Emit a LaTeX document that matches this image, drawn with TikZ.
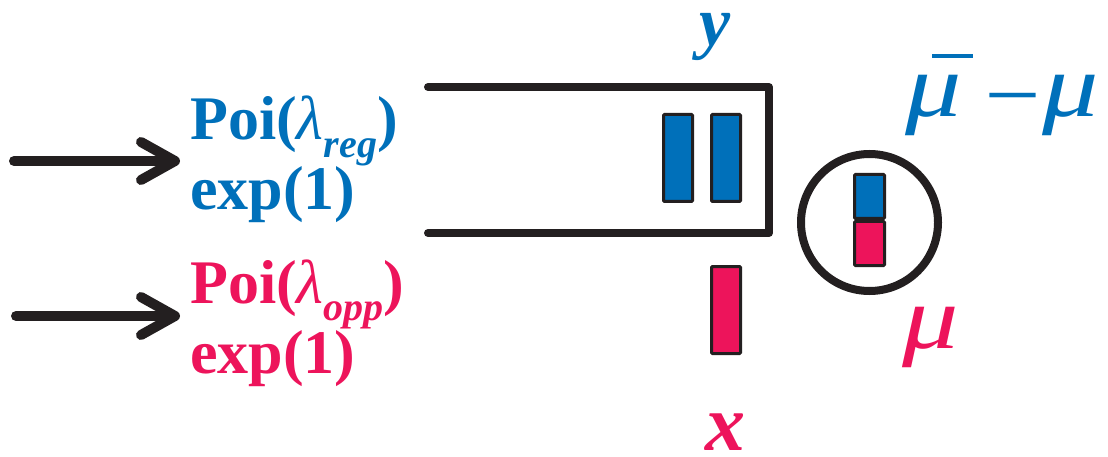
\documentclass[tikz,border=0pt]{standalone}
\usepackage{fontspec}
\setmainfont{Liberation Serif}
\usetikzlibrary{arrows.meta,positioning}
\definecolor{regblue}{RGB}{0,112,186}
\definecolor{oppred}{RGB}{237,20,91}
\definecolor{ink}{RGB}{35,31,32}
\tikzset{
  feed/.style={ink,line width=10pt,line cap=round,-{Straight Barb[length=34pt,width=38pt,round]}},
  lbl/.style={anchor=base west,inner sep=0pt,font=\fontsize{62}{70}\selectfont\bfseries},
  sym/.style={anchor=base,inner sep=0pt,font=\fontsize{80}{82}\selectfont\bfseries\itshape},
  rate/.style={anchor=base west,inner sep=0pt,font=\fontsize{90}{92}\selectfont\itshape},
  job/.style={draw=ink,line width=3pt,rounded corners=1pt,minimum width=29pt,minimum height=87pt,inner sep=0pt},
  half/.style={draw=ink,line width=3pt,rounded corners=1pt,minimum width=30pt,minimum height=44pt,inner sep=0pt}
}
\newcommand{\lam}[1]{\textit{\fontseries{m}\selectfont λ}\raisebox{-0.28em}{\fontsize{40}{40}\selectfont\textit{#1}}}
\newcommand{\wmu}{\scalebox{1.25}[1]{μ}}
\newcommand{\mubar}{\makebox[0pt][l]{\hspace{0.3em}\rule[0.66em]{0.45em}{0.045em}}\wmu}
\begin{document}
\begin{tikzpicture}[x=1pt,y=-1pt]
\useasboundingbox (0,0) rectangle (1108,457);
% arrivals
\node[lbl,regblue] (reg) at (190,140) {Poi(\lam{reg})};
\node[lbl,regblue] (regexp) at (190,210) {exp(1)};
\node[lbl,oppred] (opp) at (190,303) {Poi(\lam{opp})};
\node[lbl,oppred] (oppexp) at (190,373) {exp(1)};
\coordinate (src1) at (14,161);
\coordinate (dst1) at (180,161);
\coordinate (src2) at (16,316);
\coordinate (dst2) at (180,316);
\draw[feed] (src1) -- (dst1);
\draw[feed] (src2) -- (dst2);
% queue
\draw[ink,line width=8pt,line cap=round,line join=round] (428,87) -- (769,87) -- (769,233) -- (428,233);
\node[job,fill=regblue] (y1) at (678,158) {};
\node[job,fill=regblue] (y2) at (726,158) {};
\node[job,fill=oppred] (x1) at (726,310) {};
\node[sym,regblue,font=\fontsize{70}{72}\selectfont\bfseries\itshape] (ylab) at (715,46) {y};
\node[sym,oppred] (xlab) at (725,450) {x};
% server
\node[circle,draw=ink,line width=8pt,minimum size=137pt,inner sep=0pt] (srv) at (869.5,222.5) {};
\node[half,fill=regblue] (top) at (869.5,196.5) {};
\node[half,fill=oppred] (bot) at (869.5,243.5) {};
\node[rate,regblue] (rate) at (905,117) {\mubar\hspace{0.32em}–\hspace{0.08em}\wmu};
\node[rate,oppred] (mu) at (902,348) {\wmu};
\end{tikzpicture}
\end{document}
